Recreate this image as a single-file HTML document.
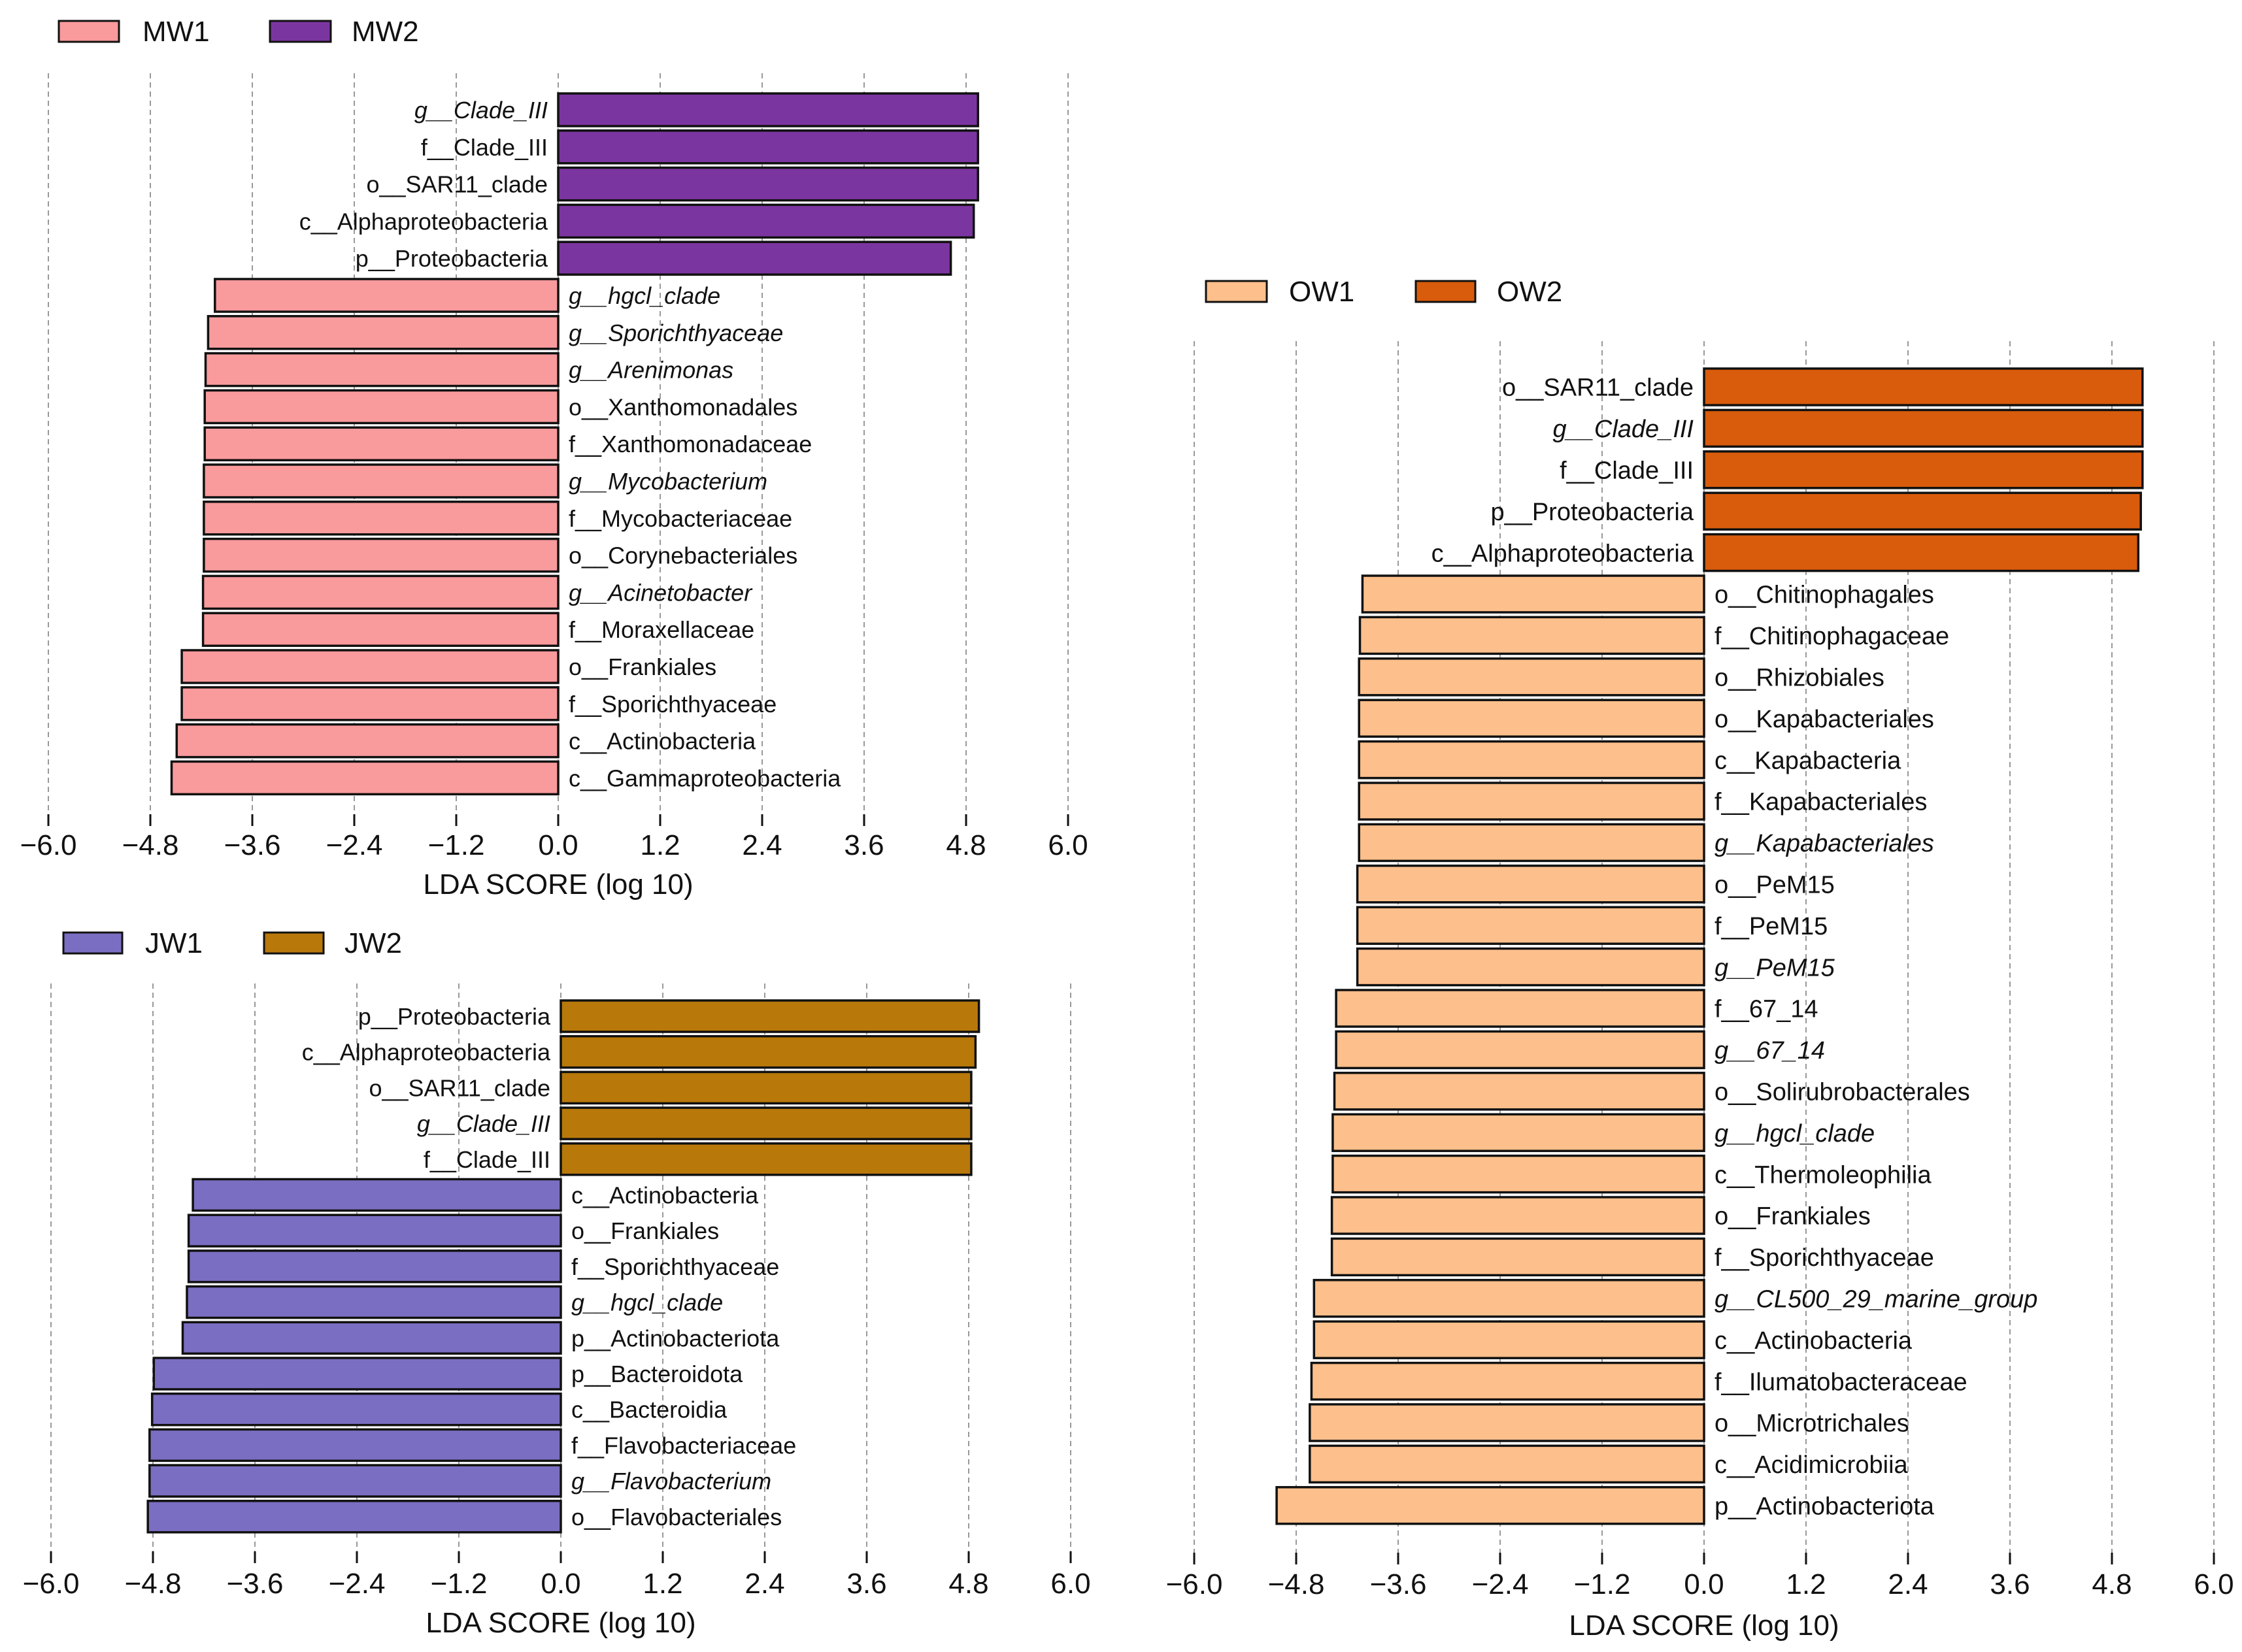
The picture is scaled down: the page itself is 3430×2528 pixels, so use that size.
<!DOCTYPE html>
<html><head><meta charset="utf-8"><style>
html,body{margin:0;padding:0;background:#fff;}
svg{display:block;font-family:"Liberation Sans",Arial,sans-serif;}
</style></head><body>
<svg id="chart" width="3430" height="2528" viewBox="0 0 3430 2528" xmlns="http://www.w3.org/2000/svg"></svg>
<script>
// ---- MW panel data ----
const mwLabels = ["g__Clade_III","f__Clade_III","o__SAR11_clade","c__Alphaproteobacteria","p__Proteobacteria","g__hgcl_clade","g__Sporichthyaceae","g__Arenimonas","o__Xanthomonadales","f__Xanthomonadaceae","g__Mycobacterium","f__Mycobacteriaceae","o__Corynebacteriales","g__Acinetobacter","f__Moraxellaceae","o__Frankiales","f__Sporichthyaceae","c__Actinobacteria","c__Gammaproteobacteria"];
const mwValues = [4.94,4.94,4.94,4.89,4.62,-4.04,-4.12,-4.15,-4.16,-4.16,-4.17,-4.17,-4.17,-4.18,-4.18,-4.43,-4.43,-4.49,-4.55];
// ---- JW panel data ----
const jwLabels = ["p__Proteobacteria","c__Alphaproteobacteria","o__SAR11_clade","g__Clade_III","f__Clade_III","c__Actinobacteria","o__Frankiales","f__Sporichthyaceae","g__hgcl_clade","p__Actinobacteriota","p__Bacteroidota","c__Bacteroidia","f__Flavobacteriaceae","g__Flavobacterium","o__Flavobacteriales"];
const jwValues = [4.92,4.88,4.83,4.83,4.83,-4.33,-4.38,-4.38,-4.40,-4.45,-4.79,-4.81,-4.84,-4.84,-4.86];
// ---- OW panel data ----
const owLabels = ["o__SAR11_clade","g__Clade_III","f__Clade_III","p__Proteobacteria","c__Alphaproteobacteria","o__Chitinophagales","f__Chitinophagaceae","o__Rhizobiales","o__Kapabacteriales","c__Kapabacteria","f__Kapabacteriales","g__Kapabacteriales","o__PeM15","f__PeM15","g__PeM15","f__67_14","g__67_14","o__Solirubrobacterales","g__hgcl_clade","c__Thermoleophilia","o__Frankiales","f__Sporichthyaceae","g__CL500_29_marine_group","c__Actinobacteria","f__Ilumatobacteraceae","o__Microtrichales","c__Acidimicrobiia","p__Actinobacteriota"];
const owValues = [5.16,5.16,5.16,5.14,5.11,-4.02,-4.05,-4.06,-4.06,-4.06,-4.06,-4.06,-4.08,-4.08,-4.08,-4.33,-4.33,-4.35,-4.37,-4.37,-4.38,-4.38,-4.59,-4.59,-4.62,-4.64,-4.64,-5.03];
const tickValues = [-6.0,-4.8,-3.6,-2.4,-1.2,0.0,1.2,2.4,3.6,4.8,6.0];
const tickLabels = ["\u22126.0","\u22124.8","\u22123.6","\u22122.4","\u22121.2","0.0","1.2","2.4","3.6","4.8","6.0"];

const NS="http://www.w3.org/2000/svg";
const svg=document.getElementById('chart');
function mk(tag,attrs,parent){const e=document.createElementNS(NS,tag);for(const k in attrs)e.setAttribute(k,attrs[k]);(parent||svg).appendChild(e);return e;}

function drawPanel(p){
  const g=mk('g',{});
  
  
  const xs=v=>p.x0+v*p.scale;
  const ys=i=>p.firstY+i*p.pitch;
  const lg=mk('g',{},g);
  
  
  p.legend.forEach(L=>{
    const e=mk('g',{},lg);
    
    
    mk('rect',{x:L.bx,y:p.legY-16,width:L.bw,height:32,fill:L.color,stroke:'#111','stroke-width':3},e);
    const t=mk('text',{x:L.tx,y:p.legY+15,'font-size':44,fill:'#111'},e);
    t.textContent=L.text;
  });
  tickValues.forEach((v,i)=>{
    const gl=mk('line',{x1:xs(v),x2:xs(v),y1:p.gridTop,y2:p.axisY,stroke:'#999','stroke-width':2,'stroke-dasharray':'8,6'},g);
    
    
  });
  p.values.forEach((v,i)=>{
    const cy=ys(i);
    const x=Math.min(xs(0),xs(v)), w=Math.abs(xs(v)-xs(0));
    const r=mk('rect',{x:x,y:cy-p.barH/2,width:w,height:p.barH,fill:v>0?p.posColor:p.negColor,stroke:'#111','stroke-width':3.5},g);
    
    
    const italic=p.labels[i].startsWith('g__');
    const t=mk('text',{x:v>0?xs(0)-16:xs(0)+16,y:cy+p.fs*0.36,'font-size':p.fs,fill:'#111','text-anchor':v>0?'end':'start','font-style':italic?'italic':'normal'},g);
    
    
    t.textContent=p.labels[i];
  });
  tickValues.forEach((v,i)=>{
    mk('line',{x1:xs(v),x2:xs(v),y1:p.axisY,y2:p.axisY+18,stroke:'#111','stroke-width':3},g);
    const t=mk('text',{x:xs(v),y:p.tickY+16,'font-size':44,'text-anchor':'middle',fill:'#111'},g);
    
    
    t.textContent=tickLabels[i];
  });
  const at=mk('text',{x:xs(0),y:p.titleY+16,'font-size':44,'text-anchor':'middle',fill:'#111'},g);
  
  
  at.textContent='LDA SCORE (log 10)';
}

drawPanel({name:'mw',labels:mwLabels,values:mwValues,x0:854,scale:130,firstY:168,pitch:56.8,barH:50,
  gridTop:112,axisY:1246,tickY:1292,titleY:1352,fs:36,posColor:'#7b35a0',negColor:'#f99a9c',legY:48,
  legend:[{bx:90,bw:92,color:'#f99a9c',tx:218,text:'MW1'},{bx:413,bw:93,color:'#7b35a0',tx:538,text:'MW2'}]});
drawPanel({name:'jw',labels:jwLabels,values:jwValues,x0:858,scale:130,firstY:1555,pitch:54.7,barH:48,
  gridTop:1505,axisY:2374,tickY:2422,titleY:2482,fs:36,posColor:'#b8780a',negColor:'#7a6ec2',legY:1443,
  legend:[{bx:97,bw:90,color:'#7a6ec2',tx:222,text:'JW1'},{bx:404,bw:91,color:'#b8780a',tx:527,text:'JW2'}]});
drawPanel({name:'ow',labels:owLabels,values:owValues,x0:2607,scale:130,firstY:592,pitch:63.4,barH:56,
  gridTop:522,axisY:2376,tickY:2423,titleY:2486,fs:38,posColor:'#d95b0c',negColor:'#fdbf8b',legY:446,
  legend:[{bx:1845,bw:93,color:'#fdbf8b',tx:1972,text:'OW1'},{bx:2166,bw:91,color:'#d95b0c',tx:2290,text:'OW2'}]});
</script>
</body></html>
